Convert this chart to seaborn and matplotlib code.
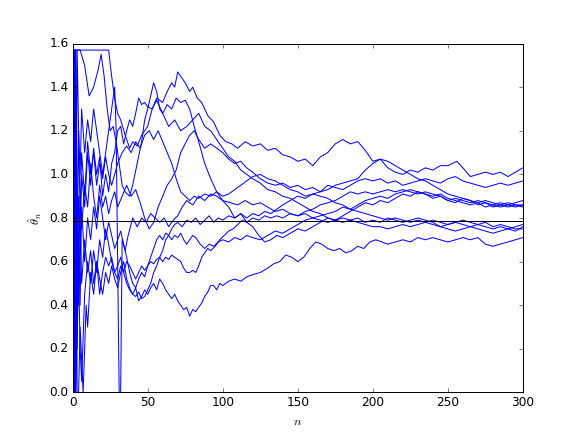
import numpy as np
import pandas as pd
import matplotlib
matplotlib.use('Agg')
import matplotlib.pyplot as plt
import seaborn as sns

plt.style.use('classic')

# (n, theta_hat), one list per simulated run
run1 = [(1,1.57),(3,1.57),(24,1.57),(26,1.45),(28,1.35),(30,1.28),(32,1.25),(35,1.18),(38,1.12),(40,1.15),
        (43,1.13),(46,1.18),(50,1.22),(53,1.30),(56,1.35),(60,1.33),(63,1.38),(66,1.42),(68,1.40),(70,1.47),
        (72,1.45),(75,1.42),(78,1.38),(80,1.40),(83,1.35),(86,1.33),(90,1.27),(94,1.24),(98,1.18),(102,1.15),
        (106,1.14),(110,1.12),(115,1.15),(120,1.13),(125,1.14),(130,1.11),(135,1.12),(140,1.09),(145,1.08),
        (150,1.06),(155,1.07),(160,1.04),(165,1.08),(170,1.10),(175,1.14),(180,1.16),(185,1.14),(190,1.15),
        (195,1.11),(200,1.06),(205,1.07),(210,1.03),(215,1.01),(220,1.00),(225,1.02),(230,1.01),(235,1.03),
        (240,1.02),(245,1.04),(250,1.04),(256,1.06),(260,1.03),(265,0.99),(270,1.00),(275,1.01),(280,1.00),
        (285,1.01),(290,0.99),(295,1.01),(300,1.03)]
run2 = [(1,0.0),(2,1.57),(5,1.57),(8,1.50),(11,1.36),(14,1.40),(17,1.48),(19,1.55),(21,1.45),(23,1.30),
        (25,1.20),(27,1.22),(29,1.15),(31,1.05),(33,0.95),(35,0.92),(38,0.90),(40,0.95),(43,1.05),(46,1.15),
        (48,1.25),(50,1.30),(52,1.36),(54,1.42),(56,1.38),(58,1.30),(60,1.28),(63,1.32),(66,1.30),(69,1.35),
        (72,1.33),(75,1.34),(78,1.30),(81,1.22),(84,1.15),(88,1.05),(92,0.98),(96,0.92),(100,0.88),(104,0.85),
        (108,0.80),(112,0.82),(116,0.78),(120,0.76),(124,0.72),(128,0.69),(132,0.70),(136,0.72),(140,0.71),
        (145,0.73),(150,0.75),(155,0.74),(160,0.76),(165,0.78),(170,0.80),(175,0.79),(180,0.81),(185,0.83),
        (190,0.85),(195,0.87),(200,0.86),(205,0.88),(210,0.87),(215,0.89),(220,0.91),(225,0.90),(230,0.92),
        (235,0.91),(240,0.89),(245,0.90),(250,0.88),(255,0.87),(260,0.89),(265,0.88),(270,0.86),(275,0.87),
        (280,0.85),(285,0.86),(290,0.85),(295,0.86),(300,0.85)]
run3 = [(1,1.57),(2,0.80),(3,0.50),(4,0.90),(5,0.70),(6,1.00),(8,0.85),(10,1.10),(12,0.95),(14,1.12),
        (16,1.00),(18,1.08),(20,0.90),(22,1.00),(24,0.92),(26,1.05),(28,1.10),(30,1.20),(32,1.22),(34,1.14),
        (36,1.20),(38,1.25),(40,1.22),(42,1.28),(44,1.35),(46,1.32),(48,1.33),(50,1.31),(53,1.30),(56,1.34),
        (60,1.28),(64,1.22),(68,1.25),(72,1.20),(76,1.22),(80,1.25),(84,1.28),(88,1.22),(92,1.20),(96,1.16),
        (100,1.12),(104,1.08),(108,1.06),(112,1.02),(116,1.00),(120,0.98),(125,0.96),(130,0.93),(135,0.92),
        (140,0.90),(145,0.89),(150,0.87),(155,0.85),(160,0.83),(165,0.82),(170,0.80),(175,0.79),(180,0.78),
        (185,0.79),(190,0.80),(195,0.78),(200,0.79),(205,0.78),(210,0.80),(215,0.79),(220,0.78),(225,0.79),
        (230,0.80),(235,0.79),(240,0.78),(245,0.76),(250,0.77),(255,0.78),(260,0.77),(265,0.76),(270,0.77),
        (275,0.76),(280,0.75),(285,0.76),(290,0.75),(295,0.76),(300,0.77)]
run4 = [(1,0.0),(2,1.57),(3,1.00),(4,0.60),(5,0.90),(6,0.75),(8,0.95),(10,0.85),(12,1.05),(14,0.90),
        (16,0.80),(18,0.95),(20,0.85),(22,0.90),(24,0.82),(26,0.88),(28,0.92),(30,0.85),(33,0.90),(36,0.95),
        (39,0.90),(42,0.93),(45,0.87),(48,0.80),(51,0.75),(54,0.78),(57,0.85),(60,0.90),(63,0.95),(66,0.98),
        (69,1.02),(72,1.10),(75,1.14),(78,1.18),(81,1.20),(84,1.16),(88,1.12),(92,1.14),(96,1.12),(100,1.10),
        (104,1.07),(108,1.05),(112,1.06),(116,1.03),(120,1.01),(125,0.98),(130,0.96),(135,0.95),(140,0.96),
        (145,0.94),(150,0.95),(155,0.93),(160,0.94),(165,0.92),(170,0.95),(175,0.94),(180,0.93),(185,0.95),
        (190,0.97),(195,0.98),(200,0.97),(205,0.98),(210,0.96),(215,0.97),(220,0.95),(225,0.96),(230,0.97),
        (235,0.98),(240,0.97),(245,0.96),(250,0.98),(255,0.99),(260,0.97),(265,0.96),(270,0.95),(275,0.94),
        (280,0.95),(285,0.96),(290,0.95),(295,0.96),(300,0.97)]
run5 = [(1,1.57),(2,0.0),(3,0.60),(4,1.20),(5,0.80),(6,1.10),(8,0.90),(10,1.15),(12,1.00),(14,1.10),
        (16,0.95),(18,1.05),(20,0.98),(22,1.08),(24,1.00),(26,0.95),(28,1.00),(30,1.05),(33,1.10),(36,1.13),
        (39,1.10),(42,1.15),(45,1.12),(48,1.18),(51,1.20),(54,1.16),(57,1.20),(60,1.15),(63,1.10),(66,1.05),
        (69,0.98),(72,0.92),(75,0.90),(78,0.88),(81,0.90),(84,0.89),(88,0.91),(92,0.90),(96,0.92),(100,0.90),
        (104,0.91),(108,0.93),(112,0.95),(116,0.97),(120,0.99),(125,1.00),(130,0.98),(135,0.97),(140,0.95),
        (145,0.93),(150,0.92),(155,0.90),(160,0.91),(165,0.92),(170,0.93),(175,0.95),(180,0.96),(185,0.97),
        (190,0.98),(195,1.02),(200,1.05),(205,1.07),(210,1.06),(215,1.04),(220,1.02),(225,1.00),(230,0.98),
        (235,0.97),(240,0.95),(245,0.93),(250,0.91),(255,0.90),(260,0.89),(265,0.88),(270,0.87),(275,0.88),
        (280,0.87),(285,0.86),(290,0.87),(295,0.86),(300,0.86)]
run6 = [(1,0.0),(2,0.40),(3,1.57),(4,1.20),(5,1.00),(6,1.30),(8,1.10),(10,1.25),(12,1.15),(14,1.30),
        (16,1.20),(18,1.10),(20,1.00),(22,1.10),(24,1.20),(26,1.30),(28,1.40),(29,1.20),(30,0.60),(31,0.0),
        (32,0.0),(33,0.70),(35,0.65),(37,0.72),(40,0.80),(43,0.76),(46,0.80),(49,0.78),(52,0.82),(55,0.80),
        (58,0.78),(61,0.80),(64,0.76),(67,0.79),(70,0.81),(73,0.85),(76,0.88),(80,0.86),(84,0.90),(88,0.88),
        (92,0.91),(96,0.90),(100,0.88),(105,0.87),(110,0.86),(115,0.88),(120,0.86),(125,0.87),(130,0.85),
        (135,0.83),(140,0.84),(145,0.82),(150,0.81),(155,0.82),(160,0.80),(165,0.81),(170,0.82),(175,0.83),
        (180,0.85),(185,0.84),(190,0.86),(195,0.88),(200,0.89),(205,0.90),(210,0.89),(215,0.91),(220,0.92),
        (225,0.93),(230,0.92),(235,0.91),(240,0.90),(245,0.91),(250,0.89),(255,0.88),(260,0.87),(265,0.86),
        (270,0.87),(275,0.85),(280,0.86),(285,0.87),(290,0.86),(295,0.87),(300,0.88)]
run7 = [(1,0.0),(2,0.0),(3,0.30),(4,0.55),(5,0.20),(6,0.05),(7,0.25),(8,0.45),(10,0.60),(12,0.50),
        (14,0.65),(16,0.55),(18,0.70),(20,0.62),(22,0.75),(24,0.68),(26,0.60),(28,0.55),(30,0.58),(32,0.62),
        (34,0.55),(36,0.50),(38,0.47),(40,0.45),(42,0.48),(44,0.42),(46,0.44),(48,0.47),(50,0.45),(52,0.48),
        (54,0.50),(56,0.47),(58,0.52),(60,0.50),(62,0.47),(64,0.45),(66,0.43),(68,0.45),(70,0.42),(72,0.40),
        (74,0.38),(76,0.39),(78,0.35),(80,0.38),(82,0.37),(84,0.39),(86,0.41),(88,0.44),(90,0.46),(92,0.49),
        (94,0.49),(96,0.47),(98,0.50),(100,0.49),(104,0.51),(108,0.52),(112,0.51),(116,0.53),(120,0.54),
        (125,0.55),(130,0.57),(134,0.59),(138,0.60),(142,0.63),(146,0.62),(150,0.60),(154,0.62),(158,0.66),
        (162,0.69),(166,0.68),(170,0.66),(174,0.65),(178,0.66),(182,0.64),(186,0.65),(190,0.67),(194,0.66),
        (198,0.69),(202,0.70),(206,0.69),(210,0.68),(215,0.69),(220,0.70),(225,0.69),(230,0.71),(235,0.70),
        (240,0.71),(245,0.70),(250,0.69),(255,0.70),(260,0.71),(265,0.70),(270,0.71),(275,0.68),(280,0.67),
        (285,0.68),(290,0.69),(295,0.70),(300,0.71)]
run8 = [(1,1.57),(2,0.0),(3,0.90),(4,0.40),(5,0.75),(6,0.50),(8,0.70),(10,0.55),(12,0.65),(14,0.50),
        (16,0.60),(18,0.45),(20,0.55),(22,0.62),(24,0.58),(26,0.62),(28,0.55),(30,0.52),(32,0.58),(34,0.55),
        (36,0.60),(38,0.58),(40,0.55),(42,0.52),(44,0.55),(46,0.58),(48,0.56),(50,0.58),(52,0.60),(54,0.59),
        (56,0.61),(58,0.62),(60,0.60),(62,0.62),(64,0.61),(66,0.63),(68,0.62),(70,0.61),(72,0.60),(74,0.57),
        (76,0.55),(78,0.55),(80,0.56),(82,0.55),(84,0.58),(86,0.62),(88,0.64),(90,0.66),(92,0.65),(95,0.67),
        (98,0.70),(101,0.72),(104,0.74),(107,0.75),(110,0.77),(113,0.79),(116,0.78),(120,0.80),(124,0.79),
        (128,0.81),(132,0.80),(136,0.81),(140,0.80),(145,0.82),(150,0.81),(155,0.83),(160,0.84),(165,0.86),
        (170,0.87),(175,0.88),(180,0.90),(185,0.92),(190,0.91),(195,0.92),(200,0.91),(205,0.92),(210,0.93),
        (215,0.92),(220,0.93),(225,0.92),(230,0.91),(235,0.92),(240,0.91),(245,0.90),(250,0.88),(255,0.89),
        (260,0.88),(265,0.87),(270,0.88),(275,0.87),(280,0.86),(285,0.85),(290,0.86),(295,0.85),(300,0.86)]
run9 = [(1,0.0),(2,1.57),(3,0.20),(4,0.70),(5,0.40),(6,0.85),(8,0.60),(10,0.80),(12,0.70),(14,0.85),
        (16,0.75),(18,0.90),(20,0.80),(22,0.70),(24,0.78),(26,0.72),(28,0.66),(30,0.70),(32,0.74),(34,0.68),
        (36,0.62),(38,0.55),(40,0.50),(42,0.48),(44,0.52),(46,0.55),(48,0.53),(50,0.58),(52,0.62),(54,0.66),
        (56,0.70),(58,0.72),(60,0.70),(62,0.73),(64,0.72),(66,0.70),(68,0.72),(70,0.71),(72,0.73),(74,0.70),
        (76,0.68),(78,0.70),(80,0.72),(82,0.71),(85,0.68),(88,0.66),(91,0.68),(94,0.67),(97,0.69),(100,0.70),
        (104,0.69),(108,0.71),(112,0.70),(116,0.72),(120,0.71),(125,0.70),(130,0.72),(135,0.74),(140,0.73),
        (145,0.75),(150,0.77),(155,0.79),(160,0.80),(165,0.79),(170,0.78),(175,0.79),(180,0.80),(185,0.79),
        (190,0.78),(195,0.77),(200,0.76),(205,0.76),(210,0.75),(215,0.76),(220,0.77),(225,0.76),(230,0.77),
        (235,0.78),(240,0.77),(245,0.76),(250,0.75),(255,0.74),(260,0.75),(265,0.76),(270,0.75),(275,0.74),
        (280,0.73),(285,0.74),(290,0.75),(295,0.74),(300,0.76)]
run10 = [(1,1.57),(2,1.57),(3,0.0),(4,0.0),(5,0.30),(6,0.15),(7,0.0),(8,0.20),(9,0.40),(10,0.30),
         (12,0.55),(14,0.45),(16,0.60),(18,0.52),(20,0.45),(22,0.55),(24,0.50),(26,0.58),(28,0.52),(30,0.48),
         (32,0.55),(34,0.60),(36,0.52),(38,0.48),(40,0.45),(42,0.44),(44,0.46),(46,0.43),(48,0.44),(50,0.47),
         (52,0.50),(54,0.55),(56,0.58),(58,0.62),(60,0.65),(62,0.70),(64,0.72),(66,0.75),(68,0.77),(70,0.78),
         (73,0.76),(76,0.79),(79,0.78),(82,0.80),(85,0.77),(88,0.79),(91,0.81),(94,0.78),(97,0.80),(100,0.79),
         (104,0.81),(108,0.80),(112,0.82),(116,0.80),(120,0.82),(124,0.81),(128,0.83),(132,0.82),(136,0.84),
         (140,0.86),(145,0.88),(150,0.90),(155,0.89),(160,0.91),(165,0.90),(170,0.89),(175,0.87),(180,0.86),
         (185,0.84),(190,0.83),(195,0.82),(200,0.81),(205,0.80),(210,0.79),(215,0.80),(220,0.79),(225,0.78),
         (230,0.79),(235,0.78),(240,0.79),(245,0.78),(250,0.77),(255,0.78),(260,0.79),(265,0.78),(270,0.77),
         (275,0.78),(280,0.76),(285,0.77),(290,0.76),(295,0.75),(300,0.75)]
runs = [run1, run2, run3, run4, run5, run6, run7, run8, run9, run10]
theta_true = np.pi / 4

rows = []
for k, run in enumerate(runs):
    for n, v in run:
        rows.append((k, n, v))
df = pd.DataFrame(rows, columns=['run', 'n', 'theta'])

fig, ax = plt.subplots(figsize=(8.0, 6.004), dpi=72.625)
sns.lineplot(data=df, x='n', y='theta', units='run', estimator=None,
             color='b', lw=1, ax=ax)
ax.axhline(theta_true, color='k', lw=1)
ax.set_xlim(0, 300)
ax.set_ylim(0, 1.6)
ax.set_xlabel('$n$')
ax.set_ylabel(r'$\hat{\theta}_n$')
fig.savefig('out.png', dpi=72.625)
